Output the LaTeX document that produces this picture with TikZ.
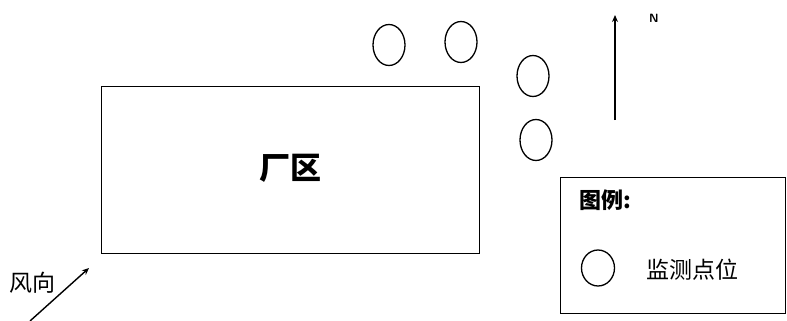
\documentclass[tikz,border=0pt]{standalone}
\usepackage{fontspec}
\newfontfamily\cjk{Noto Sans CJK SC}
\usetikzlibrary{shapes.geometric,arrows.meta}
\begin{document}
\begin{tikzpicture}[x=1pt,y=-1pt,
  mpoint/.style={draw,ellipse,line width=1.3pt,minimum width=32pt,minimum height=41pt,inner sep=0pt},
  frame/.style={draw,line width=1.4pt},
  arr/.style={line width=1.4pt,-{Stealth[length=7pt,width=6pt]}},
  lbl/.style={font=\cjk\fontsize{23}{23}\selectfont,inner sep=0pt}]
\useasboundingbox (0,0) rectangle (787,321);
\node[frame,minimum width=378pt,minimum height=167pt,inner sep=0pt,anchor=north west] (plant) at (101,86) {};
\node[font=\cjk\bfseries\fontsize{31}{31}\selectfont,inner sep=0pt] (plantlbl) at (290,168) {厂区};
\node[mpoint] (m1) at (389,45) {};
\node[mpoint] (m2) at (461,42) {};
\node[mpoint] (m3) at (533,76) {};
\node[mpoint] (m4) at (536,140) {};
\coordinate (ns) at (615,120);
\coordinate (nn) at (615,15);
\draw[arr] (ns) -- (nn);
\node[font=\sffamily\bfseries\fontsize{12}{12}\selectfont,inner sep=0pt] (nlbl) at (654,18) {N};
\coordinate (ws) at (30,321);
\coordinate (we) at (89,268);
\draw[arr] (ws) -- (we);
\node[lbl,anchor=west] (wind) at (9,283) {风向};
\node[frame,minimum width=225pt,minimum height=136pt,inner sep=0pt,anchor=north west] (legend) at (560,177) {};
\node[lbl,font=\cjk\bfseries\fontsize{22}{22}\selectfont,anchor=west] (legtitle) at (579,200) {图例:};
\node[mpoint,minimum width=33pt,minimum height=36pt] (legc) at (598,268) {};
\node[lbl,anchor=west] (legtxt) at (646,270) {监测点位};
\end{tikzpicture}
\end{document}
